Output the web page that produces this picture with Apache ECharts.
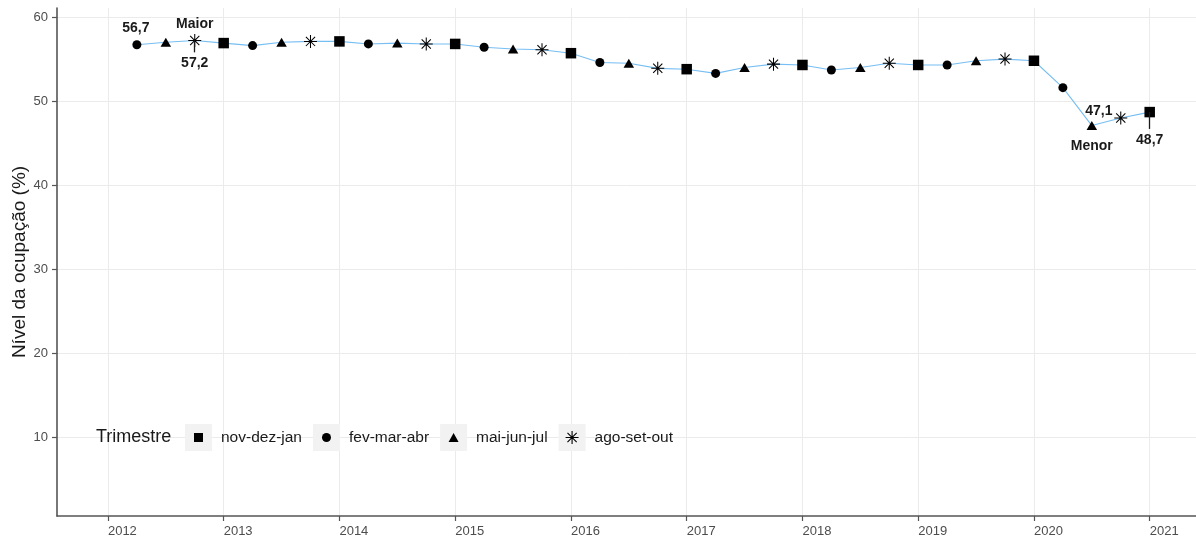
<!DOCTYPE html>
<html>
<head>
<meta charset="utf-8">
<script src="https://cdn.jsdelivr.net/npm/echarts@6/dist/echarts.min.js"></script>
<style>
html,body{margin:0;padding:0;background:#fff}
#chart{width:1196px;height:541px}
</style>
</head>
<body>
<div id="chart"></div>
<script>
// anos de referencia (o trimestre nov-dez-jan cai no ano seguinte)
const years = [2012, 2013, 2014, 2015, 2016, 2017, 2018, 2019, 2020];
const yearTicks = [2012, 2013, 2014, 2015, 2016, 2017, 2018, 2019, 2020, 2021];
const yTicks = [10, 20, 30, 40, 50, 60];
const trimestres = ['nov-dez-jan', 'fev-mar-abr', 'mai-jun-jul', 'ago-set-out'];

// nivel da ocupacao (%)
const novDezJan = [56.9, 57.1, 56.8, 55.7, 53.8, 54.3, 54.3, 54.8, 48.7];
const fevMarAbr = [56.7, 56.6, 56.8, 56.4, 54.6, 53.3, 53.7, 54.3, 51.6];
const maiJunJul = [57.0, 57.0, 56.9, 56.2, 54.5, 54.0, 54.0, 54.8, 47.1];
const agoSetOut = [57.2, 57.1, 56.8, 56.1, 53.9, 54.4, 54.5, 55.0, 48.0];

const FONT = 'Liberation Sans, Arial, sans-serif';
const fmt = v => v.toFixed(1).replace('.', ',');

function asteriskPath(cx, cy, r, w) {
  let d = '';
  [0, 45, 90, 135].forEach(a => {
    const t = a * Math.PI / 180, dx = Math.cos(t), dy = Math.sin(t), nx = -dy, ny = dx;
    const c = [[r*dx + w*nx, r*dy + w*ny], [r*dx - w*nx, r*dy - w*ny],
               [-r*dx - w*nx, -r*dy - w*ny], [-r*dx + w*nx, -r*dy + w*ny]];
    d += 'M' + c.map(p => (cx + p[0]).toFixed(3) + ',' + (cy + p[1]).toFixed(3)).join('L') + 'Z';
  });
  return d;
}

const pts = (vals, off) => vals.map((v, i) => [years[i] + off, v]);
const serPts = {
  'nov-dez-jan': pts(novDezJan, 1),
  'fev-mar-abr': pts(fevMarAbr, 0.25),
  'mai-jun-jul': pts(maiJunJul, 0.5),
  'ago-set-out': pts(agoSetOut, 0.75)
};
const allPts = [].concat(...trimestres.map(t => serPts[t])).sort((a, b) => a[0] - b[0]);
const first = allPts[0], last = allPts[allPts.length - 1];
const maxPt = allPts.reduce((m, p) => p[1] > m[1] ? p : m);
const minPt = allPts.reduce((m, p) => p[1] < m[1] ? p : m);

const symbols = {
  'nov-dez-jan': {symbol: 'rect', size: 10.5},
  'fev-mar-abr': {symbol: 'circle', size: 9},
  'mai-jun-jul': {symbol: 'triangle', size: [10.5, 9]},
  'ago-set-out': {symbol: 'path://' + asteriskPath(0, 0, 1, 0.08), size: 13}
};
const pad = 'M0,0L0,0M31,27L31,27';
const legendIcons = {
  'nov-dez-jan': 'path://M9,9L18,9L18,18L9,18Z' + pad,
  'fev-mar-abr': 'path://M9,13.5A4.5,4.5,0,1,1,18,13.5A4.5,4.5,0,1,1,9,13.5Z' + pad,
  'mai-jun-jul': 'path://M8.5,18L18.5,18L13.5,9Z' + pad,
  'ago-set-out': 'path://' + asteriskPath(13.5, 13.5, 6.5, 0.55) + pad
};

const lab = {show: true, fontSize: 14, fontWeight: 'bold', color: '#1a1a1a', fontFamily: FONT};

function makeSeries(name) {
  const p = serPts[name];
  const data = p.map(q => {
    const item = {value: q};
    if (q === first) item.label = Object.assign({}, lab, {position: 'top', distance: 5, offset: [-1, 0], formatter: fmt(q[1])});
    if (q === maxPt) item.label = Object.assign({}, lab, {position: 'top', distance: 3, formatter: 'Maior'});
    if (q === minPt) item.label = Object.assign({}, lab, {position: 'top', distance: 3, offset: [7, 0], formatter: fmt(q[1])});
    return item;
  });
  const lines = [maxPt, last].filter(q => p.includes(q))
    .map(q => [{coord: q}, {coord: [q[0], q[1] - (q === last ? 2.0 : 1.4)], value: q[1]}]);
  const marks = [minPt].filter(q => p.includes(q)).map(q => ({coord: q}));
  return {
    name: name,
    type: 'scatter',
    z: 3,
    symbol: symbols[name].symbol,
    symbolSize: symbols[name].size,
    itemStyle: {color: '#000', opacity: 1},
    data: data,
    markLine: lines.length ? {
      silent: true, symbol: 'none', animation: false,
      lineStyle: {color: '#1a1a1a', width: 1.3, type: 'solid'},
      label: Object.assign({}, lab, {position: 'end', distance: 4, formatter: prm => fmt(prm.value)}),
      emphasis: {disabled: true},
      data: lines
    } : undefined,
    markPoint: marks.length ? {
      silent: true, symbol: 'circle', symbolSize: 0, animation: false,
      label: Object.assign({}, lab, {position: 'inside', offset: [0, 21], formatter: 'Menor'}),
      data: marks
    } : undefined
  };
}

const legendBase = {
  left: 185, top: 424, orient: 'horizontal', padding: 0,
  itemWidth: 31, itemHeight: 27, itemGap: 11,
  selectedMode: false,
  textStyle: {fontSize: 15.5, color: '#1a1a1a', fontFamily: FONT}
};

const chart = echarts.init(document.getElementById('chart'), null, {renderer: 'canvas'});
chart.setOption({
  animation: false,
  backgroundColor: '#fff',
  textStyle: {fontFamily: FONT},
  grid: {left: 57, right: 0, top: 8, bottom: 25, outerBoundsMode: 'none', containLabel: false},
  xAxis: {
    type: 'value', min: 2011.56, max: 2021.4,
    axisLine: {show: true, onZero: false, lineStyle: {color: '#555', width: 1.6}},
    axisTick: {show: true, length: 5, customValues: yearTicks, lineStyle: {color: '#555', width: 1.2}},
    axisLabel: {customValues: yearTicks, align: 'left', margin: 9, color: '#4d4d4d', fontSize: 13, formatter: v => String(v)},
    splitLine: {show: true, lineStyle: {color: '#EBEBEB', width: 1}}
  },
  yAxis: {
    type: 'value', min: 0.7, max: 61.07,
    name: 'Nível da ocupação (%)', nameLocation: 'middle', nameGap: 28, nameMoveOverlap: false,
    nameTextStyle: {fontSize: 19, color: '#1a1a1a', fontFamily: FONT},
    axisLine: {show: true, onZero: false, lineStyle: {color: '#555', width: 1.6}},
    axisTick: {show: true, length: 5, customValues: yTicks, lineStyle: {color: '#555', width: 1.2}},
    axisLabel: {customValues: yTicks, margin: 9, color: '#4d4d4d', fontSize: 13},
    splitLine: {show: true, lineStyle: {color: '#EBEBEB', width: 1}}
  },
  legend: [
    Object.assign({}, legendBase, {
      icon: 'path://M0,0L27,0L27,27L0,27ZM31,0L31,0',
      itemStyle: {color: '#F2F2F2', borderWidth: 0},
      data: trimestres
    }),
    Object.assign({}, legendBase, {
      z: 6,
      textStyle: {fontSize: 15.5, color: 'rgba(0,0,0,0)', fontFamily: FONT},
      itemStyle: {color: '#000', borderWidth: 0, opacity: 1},
      data: trimestres.map(t => ({name: t, icon: legendIcons[t]}))
    })
  ],
  graphic: [{
    type: 'text', left: 96, top: 428, z: 10,
    style: {text: 'Trimestre', fontSize: 18, fill: '#1a1a1a', fontFamily: FONT}
  }],
  series: [{
    name: 'linha',
    type: 'line',
    z: 2,
    symbol: 'none',
    lineStyle: {color: '#77BEF2', width: 1.1},
    data: allPts
  }].concat(trimestres.map(makeSeries))
});
</script>
</body>
</html>
